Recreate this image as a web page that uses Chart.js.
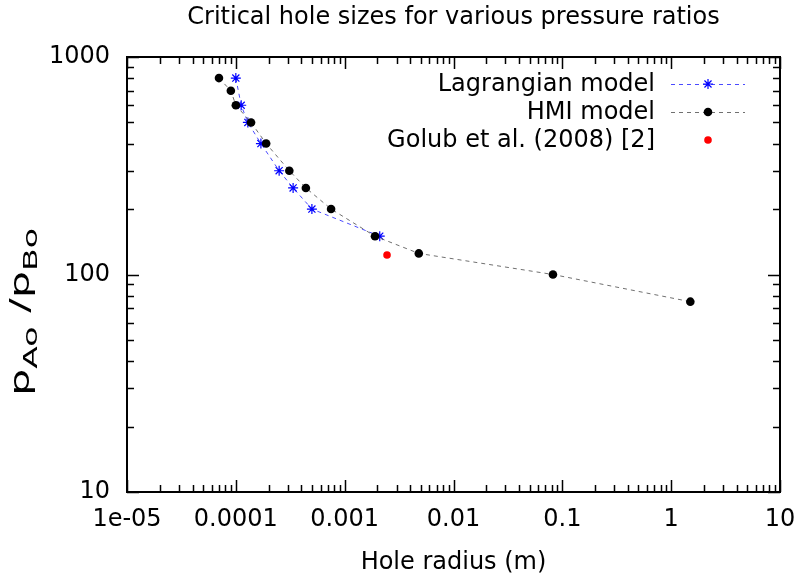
<!DOCTYPE html>
<html>
<head>
<meta charset="utf-8">
<script src="https://cdn.jsdelivr.net/npm/chart.js@4.4.1/dist/chart.umd.min.js"></script>
<style>
  body { margin: 0; background: #fff; }
  #wrap { width: 799px; height: 577px; position: relative; }
</style>
</head>
<body>
<div id="wrap"><canvas id="myChart"></canvas></div>
<script>
const FONT = "'DejaVu Sans', sans-serif";

// hole radius (m) and pressure ratio values
const lagX = [1.0e-4, 1.12e-4, 1.29e-4, 1.7e-4, 2.5e-4, 3.36e-4, 5.0e-4, 2.1e-3];
const lagY = [800, 600, 500, 400, 300, 250, 200, 150];

const hmiX = [7.0e-5, 9.0e-5, 1.0e-4, 1.38e-4, 1.9e-4, 3.1e-4, 4.4e-4, 7.5e-4, 1.9e-3, 4.8e-3, 0.082, 1.5];
const hmiY = [800, 700, 600, 500, 400, 300, 250, 200, 150, 125, 100, 75];

const golubX = [2.45e-3];
const golubY = [123];

const seriesNames = ["Lagrangian model", "HMI model", "Golub et al. (2008) [2]"];

const xTicks = [1e-5, 1e-4, 1e-3, 1e-2, 1e-1, 1, 10];
const xTickLabels = ["1e-05", "0.0001", "0.001", "0.01", "0.1", "1", "10"];
const yTicks = [10, 100, 1000];
const yTickLabels = ["10", "100", "1000"];

const titleText = "Critical hole sizes for various pressure ratios";
const xTitle = "Hole radius (m)";

function toPoints(xs, ys) {
  return xs.map((x, i) => ({ x: x, y: ys[i] }));
}

// frame, inward ticks, title, y label and legend, drawn gnuplot style
const decorations = {
  id: "decorations",
  afterDraw(chart) {
    const ctx = chart.ctx;
    const a = chart.chartArea;
    const xs = chart.scales.x, ys = chart.scales.y;
    ctx.save();
    ctx.strokeStyle = "#000";
    ctx.lineWidth = 1.5;
    ctx.beginPath();
    // x ticks (bottom + top)
    for (let e = -5; e <= 1; e++) {
      for (let m = 1; m <= 9; m++) {
        const v = m * Math.pow(10, e);
        if (v > 10.0001) continue;
        const px = Math.round(xs.getPixelForValue(v)) + 0.5;
        const len = m === 1 ? 12 : 7;
        ctx.moveTo(px, a.bottom); ctx.lineTo(px, a.bottom - len);
        ctx.moveTo(px, a.top); ctx.lineTo(px, a.top + len);
      }
    }
    // y ticks (left + right)
    for (let e = 1; e <= 3; e++) {
      for (let m = 1; m <= 9; m++) {
        const v = m * Math.pow(10, e);
        if (v > 1000.001) continue;
        const py = Math.round(ys.getPixelForValue(v)) + 0.5;
        const len = m === 1 ? 12 : 7;
        ctx.moveTo(a.left, py); ctx.lineTo(a.left + len, py);
        ctx.moveTo(a.right, py); ctx.lineTo(a.right - len, py);
      }
    }
    ctx.stroke();
    ctx.lineWidth = 2;
    ctx.strokeRect(a.left, a.top, a.right - a.left, a.bottom - a.top);

    // title
    ctx.fillStyle = "#000";
    ctx.font = "24px " + FONT;
    ctx.textAlign = "center";
    ctx.textBaseline = "middle";
    ctx.fillText(titleText, (a.left + a.right) / 2, 18);

    // y label with subscripts: p_Ao /p_Bo (stretched along the text like the original)
    const parts = [["p", 26, 0], ["Ao", 20, 8], [" /", 26, 0], ["p", 26, 0], ["Bo", 20, 8]];
    let total = 0;
    parts.forEach(p => { ctx.font = p[1] + "px " + FONT; total += ctx.measureText(p[0]).width; });
    const targetLen = 168;
    ctx.translate(29, 312);
    ctx.rotate(-Math.PI / 2);
    ctx.scale(targetLen / total, 1);
    ctx.textAlign = "left";
    ctx.textBaseline = "alphabetic";
    let cx = -total / 2;
    parts.forEach(p => {
      ctx.font = p[1] + "px " + FONT;
      ctx.fillText(p[0], cx, p[2]);
      cx += ctx.measureText(p[0]).width;
    });
    ctx.setTransform(1, 0, 0, 1, 0, 0);

    // legend, text right aligned with the sample on the right
    const rowY = [84, 112, 140];
    chart.data.datasets.forEach((ds, i) => {
      const y = rowY[i];
      ctx.font = "24px " + FONT;
      ctx.fillStyle = "#000";
      ctx.textAlign = "right";
      ctx.textBaseline = "middle";
      ctx.fillText(ds.label, 655, y + 1);
      if (ds.showLine !== false) {
        ctx.save();
        ctx.strokeStyle = ds.borderColor;
        ctx.lineWidth = ds.borderWidth;
        ctx.setLineDash(ds.borderDash || []);
        ctx.beginPath();
        ctx.moveTo(671, y + 0.5); ctx.lineTo(745, y + 0.5);
        ctx.stroke();
        ctx.restore();
      }
      ctx.save();
      ctx.strokeStyle = ds.pointBorderColor;
      ctx.fillStyle = ds.pointBackgroundColor;
      ctx.lineWidth = ds.pointBorderWidth;
      Chart.helpers.drawPoint(ctx, {
        pointStyle: ds.pointStyle, rotation: 0,
        radius: ds.pointRadius, borderWidth: ds.pointBorderWidth
      }, 708, y);
      ctx.restore();
    });
    ctx.restore();
  }
};

new Chart(document.getElementById("myChart"), {
  type: "scatter",
  data: {
    datasets: [
      {
        label: seriesNames[0],
        data: toPoints(lagX, lagY),
        showLine: true,
        borderColor: "#4a4aff",
        borderWidth: 1,
        borderDash: [4, 4],
        pointStyle: "star",
        pointRadius: 5,
        pointBorderWidth: 1.2,
        pointBorderColor: "#0000ff",
        pointBackgroundColor: "#0000ff",
        order: 2
      },
      {
        label: seriesNames[1],
        data: toPoints(hmiX, hmiY),
        showLine: true,
        borderColor: "#707070",
        borderWidth: 1,
        borderDash: [4, 4],
        pointStyle: "circle",
        pointRadius: 4.3,
        pointBorderWidth: 0,
        pointBorderColor: "#000",
        pointBackgroundColor: "#000",
        order: 1
      },
      {
        label: seriesNames[2],
        data: toPoints(golubX, golubY),
        showLine: false,
        borderColor: "#ff0000",
        pointStyle: "circle",
        pointRadius: 3.8,
        pointBorderWidth: 0,
        pointBorderColor: "#ff0000",
        pointBackgroundColor: "#ff0000",
        order: 0
      }
    ]
  },
  options: {
    responsive: true,
    maintainAspectRatio: false,
    animation: false,
    layout: { padding: { top: 57, right: 19, left: 0, bottom: 0 } },
    plugins: {
      legend: { display: false },
      title: { display: false },
      tooltip: { enabled: false }
    },
    scales: {
      x: {
        type: "logarithmic",
        min: 1e-5,
        max: 10,
        afterFit: (s) => { s.height = 85; s.paddingLeft = 0; s.paddingRight = 0; },
        afterBuildTicks: (s) => { s.ticks = xTicks.map(v => ({ value: v })); },
        grid: { display: false },
        border: { display: false },
        ticks: {
          autoSkip: false,
          maxRotation: 0,
          padding: 5,
          color: "#000",
          font: { family: FONT, size: 24 },
          callback: (v, i) => xTickLabels[i]
        },
        title: {
          display: true,
          text: xTitle,
          color: "#000",
          font: { family: FONT, size: 24 },
          padding: { top: 0, bottom: 0 }
        }
      },
      y: {
        type: "logarithmic",
        min: 10,
        max: 1000,
        afterFit: (s) => { s.width = 127; s.paddingTop = 0; s.paddingBottom = 0; },
        afterBuildTicks: (s) => { s.ticks = yTicks.map(v => ({ value: v })); },
        grid: { display: false },
        border: { display: false },
        ticks: {
          autoSkip: false,
          padding: 9,
          color: "#000",
          font: { family: FONT, size: 24 },
          callback: (v, i) => yTickLabels[i]
        }
      }
    }
  },
  plugins: [decorations]
});
</script>
</body>
</html>
